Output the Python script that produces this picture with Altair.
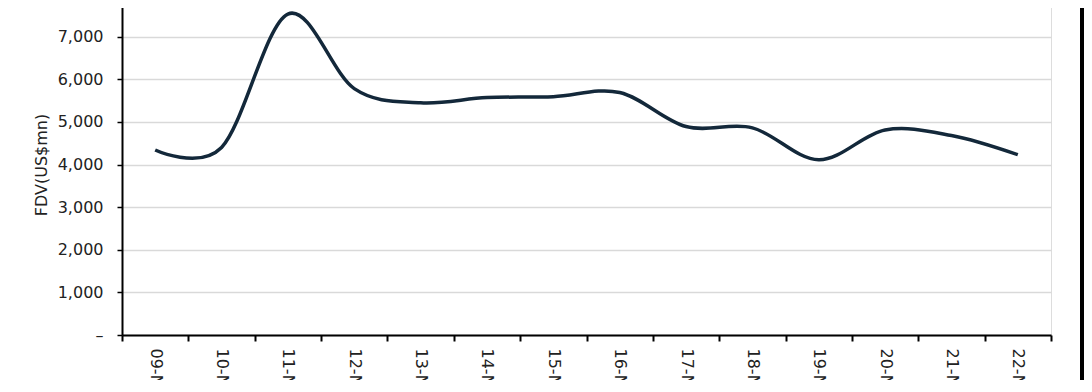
import altair as alt
import pandas as pd

dates = ["09-Nov", "10-Nov", "11-Nov", "12-Nov", "13-Nov", "14-Nov", "15-Nov",
         "16-Nov", "17-Nov", "18-Nov", "19-Nov", "20-Nov", "21-Nov", "22-Nov"]
fdv = [4340, 4400, 7530, 5780, 5450, 5570, 5590, 5690, 4890, 4860, 4110, 4810, 4680, 4230]
y_ticks = [0, 1000, 2000, 3000, 4000, 5000, 6000, 7000, 8000]

df = pd.DataFrame({"date": dates, "fdv": fdv})

FONT = "DejaVu Sans"

line = alt.Chart(df).mark_line(
    interpolate="cardinal", tension=0, color="#13283a", strokeWidth=3.5
).encode(
    x=alt.X("date:N", sort=None,
            scale=alt.Scale(type="band", paddingInner=0, paddingOuter=0),
            axis=alt.Axis(title=None, labelAngle=90, labelFont=FONT, labelFontSize=16,
                          labelColor="#222222", labelPadding=7,
                          domainColor="#000000", domainWidth=2,
                          tickColor="#000000", tickWidth=2, tickSize=6,
                          tickBand="extent", grid=False)),
    y=alt.Y("fdv:Q",
            scale=alt.Scale(domain=[0, 8000], nice=False),
            axis=alt.Axis(title="FDV(US$mn)", values=y_ticks,
                          labelExpr="datum.value == 0 ? '–' : format(datum.value, ',')",
                          labelFont=FONT, labelFontSize=16, labelColor="#222222",
                          labelPadding=14,
                          titleFont=FONT, titleFontSize=16, titleFontWeight="normal",
                          titleColor="#222222", titlePadding=8,
                          domainColor="#000000", domainWidth=2,
                          tickColor="#000000", tickWidth=1.5, tickSize=5,
                          grid=True, gridColor="#d9d9d9", gridWidth=1.5)),
)

frame = alt.Chart(df).mark_rule(color="#000000", strokeWidth=3).encode(
    x=alt.value(960), y=alt.value(-40), y2=alt.value(420)
)

chart = alt.layer(line, frame).properties(
    width=929, height=341,
    autosize=alt.AutoSizeParams(type="none"),
    padding={"left": 114, "top": -14, "right": 33, "bottom": 45},
).configure_view(stroke=None).configure(background="#ffffff")

chart.save("out.html", embed_options={"renderer": "svg", "actions": False})
